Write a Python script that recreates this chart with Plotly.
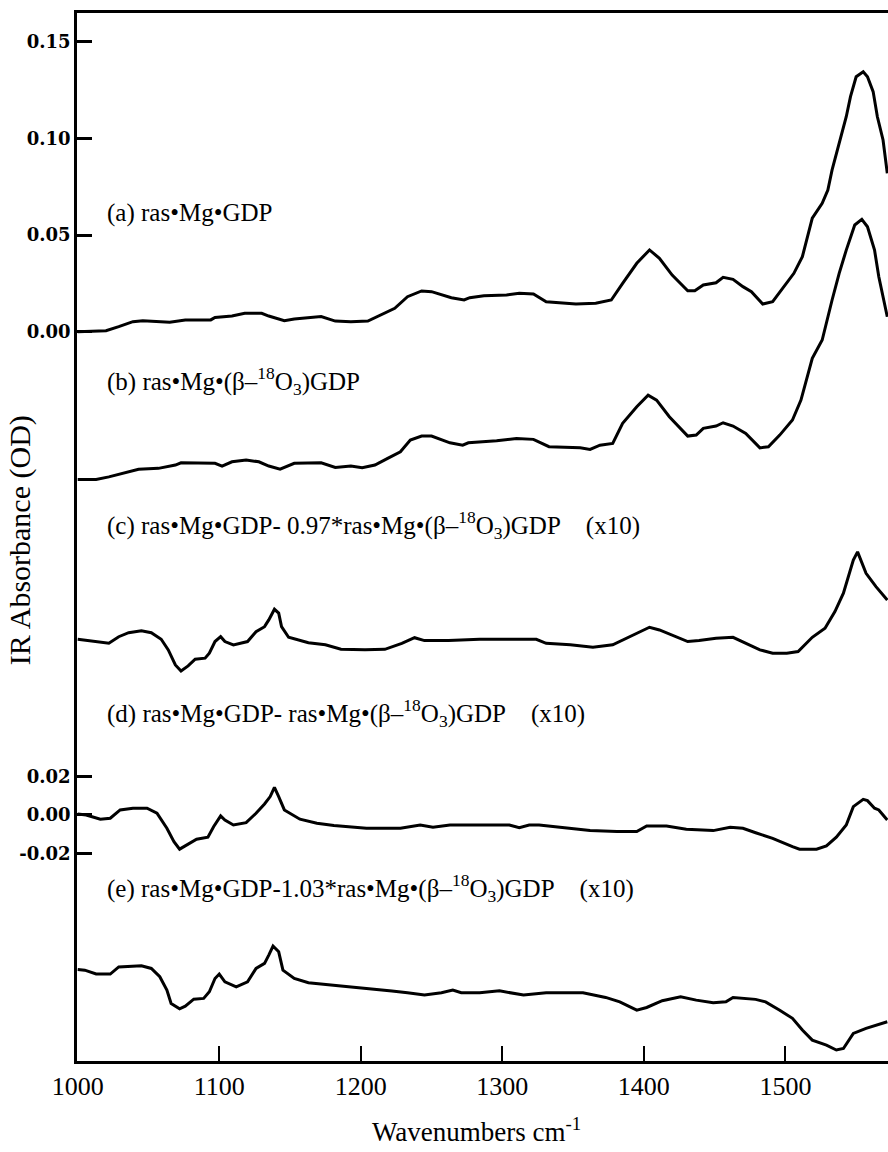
import plotly.graph_objects as go

# ---------------------------------------------------------------- data
# (a) ras·Mg·GDP, absorbance (OD)
WN_A = [1000, 1020, 1029, 1039, 1046, 1065, 1076, 1094, 1097, 1109, 1118, 1130, 1135, 1146,
        1153, 1172, 1182, 1193, 1205, 1212, 1224, 1233, 1243, 1250, 1257, 1264, 1273, 1277,
        1287, 1303, 1312, 1322, 1331, 1352, 1366, 1377, 1385, 1395, 1404, 1411, 1420, 1431,
        1436, 1442, 1451, 1456, 1463, 1470, 1476, 1484, 1491, 1498, 1506, 1512, 1519, 1526,
        1530, 1533, 1538, 1543, 1546, 1550, 1555, 1558, 1562, 1565, 1569, 1572]
ABS_A = [0.0000, 0.0005, 0.0026, 0.0052, 0.0057, 0.0049, 0.0061, 0.0061, 0.0074, 0.0081,
         0.0095, 0.0095, 0.0081, 0.0057, 0.0066, 0.0078, 0.0055, 0.0052, 0.0055, 0.0078,
         0.0121, 0.0181, 0.0211, 0.0207, 0.0190, 0.0176, 0.0164, 0.0176, 0.0186, 0.0190,
         0.0199, 0.0195, 0.0155, 0.0143, 0.0147, 0.0164, 0.0250, 0.0354, 0.0423, 0.0380,
         0.0293, 0.0212, 0.0212, 0.0242, 0.0253, 0.0281, 0.0271, 0.0233, 0.0207, 0.0143,
         0.0155, 0.0225, 0.0302, 0.0388, 0.0587, 0.0664, 0.0733, 0.0837, 0.0975, 0.1112,
         0.1216, 0.1319, 0.1345, 0.1319, 0.1242, 0.1112, 0.0992, 0.0819]

# (b) ras·Mg·(β-18O3)GDP
WN_B = [1000, 1013, 1022, 1033, 1043, 1057, 1069, 1073, 1097, 1102, 1109, 1119, 1128, 1135,
        1143, 1153, 1172, 1182, 1193, 1201, 1210, 1219, 1228, 1235, 1243, 1250, 1257, 1263,
        1272, 1276, 1286, 1296, 1310, 1322, 1333, 1355, 1362, 1369, 1378, 1385, 1395, 1403,
        1409, 1418, 1431, 1437, 1442, 1451, 1456, 1463, 1472, 1482, 1488, 1496, 1505, 1511,
        1519, 1526, 1533, 1538, 1543, 1549, 1554, 1558, 1563, 1566, 1572]
ABS_B = [0.0000, 0.0000, 0.0013, 0.0034, 0.0052, 0.0057, 0.0074, 0.0086, 0.0083, 0.0069,
         0.0091, 0.0100, 0.0091, 0.0069, 0.0053, 0.0083, 0.0086, 0.0062, 0.0069, 0.0060,
         0.0074, 0.0109, 0.0143, 0.0203, 0.0224, 0.0224, 0.0207, 0.0189, 0.0177, 0.0189,
         0.0195, 0.0200, 0.0212, 0.0207, 0.0169, 0.0163, 0.0155, 0.0177, 0.0186, 0.0290,
         0.0376, 0.0436, 0.0410, 0.0324, 0.0224, 0.0229, 0.0264, 0.0276, 0.0293, 0.0276,
         0.0238, 0.0163, 0.0169, 0.0229, 0.0307, 0.0410, 0.0626, 0.0721, 0.0928, 0.1066,
         0.1186, 0.1316, 0.1345, 0.1307, 0.1186, 0.1048, 0.0841]

# (c) a - 0.97*b, x10
WN_C = [1000, 1008, 1022, 1029, 1036, 1045, 1052, 1059, 1064, 1069, 1073, 1078, 1083, 1090,
        1093, 1097, 1101, 1104, 1110, 1120, 1126, 1132, 1135, 1139, 1142, 1144, 1149, 1163,
        1175, 1186, 1203, 1217, 1229, 1238, 1245, 1262, 1284, 1324, 1331, 1348, 1364, 1378,
        1388, 1397, 1404, 1411, 1421, 1431, 1439, 1451, 1463, 1472, 1482, 1491, 1501, 1509,
        1514, 1519, 1528, 1535, 1541, 1544, 1548, 1551, 1557, 1564, 1572]
ABS_C = [0.0000, -0.0007, -0.0021, 0.0013, 0.0034, 0.0044, 0.0034, 0.0000, -0.0055, -0.0133,
         -0.0164, -0.0138, -0.0103, -0.0098, -0.0072, -0.0012, 0.0013, -0.0012, -0.0029,
         -0.0012, 0.0039, 0.0065, 0.0100, 0.0155, 0.0135, 0.0065, 0.0010, -0.0018, -0.0029,
         -0.0052, -0.0055, -0.0052, -0.0021, 0.0008, -0.0007, -0.0007, 0.0000, 0.0000,
         -0.0021, -0.0029, -0.0041, -0.0029, 0.0005, 0.0039, 0.0062, 0.0048, 0.0017, -0.0012,
         -0.0007, 0.0005, 0.0010, -0.0021, -0.0055, -0.0072, -0.0072, -0.0064, -0.0029,
         0.0010, 0.0057, 0.0143, 0.0238, 0.0307, 0.0410, 0.0452, 0.0341, 0.0272, 0.0203]

# (d) a - b, x10
WN_D = [1000, 1006, 1016, 1023, 1030, 1039, 1049, 1056, 1063, 1068, 1072, 1077, 1084, 1092,
        1096, 1101, 1104, 1110, 1119, 1126, 1132, 1136, 1139, 1142, 1146, 1157, 1169, 1181,
        1204, 1228, 1242, 1251, 1263, 1284, 1305, 1312, 1319, 1326, 1345, 1362, 1381, 1395,
        1402, 1416, 1430, 1449, 1461, 1470, 1479, 1491, 1505, 1510, 1522, 1529, 1536, 1543,
        1548, 1555, 1558, 1563, 1566, 1572]
ABS_D = [0.0005, 0.0000, -0.0022, -0.0017, 0.0026, 0.0035, 0.0035, 0.0009, -0.0069, -0.0138,
         -0.0177, -0.0155, -0.0126, -0.0115, -0.0061, -0.0005, -0.0026, -0.0052, -0.0040,
         0.0009, 0.0057, 0.0095, 0.0143, 0.0095, 0.0026, -0.0022, -0.0043, -0.0055, -0.0069,
         -0.0069, -0.0052, -0.0064, -0.0052, -0.0052, -0.0052, -0.0066, -0.0052, -0.0052,
         -0.0066, -0.0081, -0.0086, -0.0086, -0.0057, -0.0057, -0.0074, -0.0081, -0.0064,
         -0.0069, -0.0092, -0.0121, -0.0164, -0.0177, -0.0177, -0.0160, -0.0115, -0.0052,
         0.0043, 0.0081, 0.0074, 0.0035, 0.0026, -0.0026]

# (e) a - 1.03*b, x10
WN_E = [1000, 1005, 1013, 1023, 1029, 1045, 1052, 1058, 1063, 1066, 1072, 1076, 1082, 1089,
        1093, 1097, 1100, 1104, 1112, 1120, 1126, 1132, 1135, 1138, 1142, 1145, 1153, 1163,
        1186, 1205, 1222, 1233, 1245, 1257, 1265, 1271, 1284, 1298, 1315, 1331, 1357, 1373,
        1383, 1395, 1402, 1413, 1426, 1437, 1449, 1458, 1463, 1479, 1486, 1496, 1505, 1512,
        1519, 1529, 1536, 1541, 1548, 1557, 1572]
ABS_E = [0.0000, -0.0004, -0.0024, -0.0024, 0.0013, 0.0019, 0.0005, -0.0038, -0.0107,
         -0.0176, -0.0204, -0.0190, -0.0154, -0.0150, -0.0116, -0.0047, -0.0024, -0.0064,
         -0.0090, -0.0064, 0.0005, 0.0031, 0.0074, 0.0121, 0.0091, -0.0004, -0.0047, -0.0069,
         -0.0086, -0.0098, -0.0112, -0.0121, -0.0133, -0.0121, -0.0107, -0.0121, -0.0121,
         -0.0111, -0.0133, -0.0121, -0.0121, -0.0145, -0.0168, -0.0211, -0.0197, -0.0162,
         -0.0142, -0.0159, -0.0173, -0.0168, -0.0145, -0.0155, -0.0168, -0.0211, -0.0253,
         -0.0314, -0.0366, -0.0392, -0.0417, -0.0409, -0.0331, -0.0305, -0.0271]

# vertical stacking of the traces (OD units on the shared axis)
OFFSETS = {"a": 0.0, "b": -0.0764, "c": -0.1591, "d": -0.250, "e": -0.3299}

X_TICKS = [1000, 1100, 1200, 1300, 1400, 1500]
Y_TICKS_A = [0.00, 0.05, 0.10, 0.15]
Y_TICKS_D = [-0.02, 0.00, 0.02]

GAP = "\u00a0" * 4
ISO = "(\u03b2\u2013<sup>18</sup>O<sub>3</sub>)GDP"
LABELS = {
    "a": "(a) ras\u2022Mg\u2022GDP",
    "b": "(b) ras\u2022Mg\u2022" + ISO,
    "c": "(c) ras\u2022Mg\u2022GDP- 0.97*ras\u2022Mg\u2022" + ISO + GAP + "(x10)",
    "d": "(d) ras\u2022Mg\u2022GDP- ras\u2022Mg\u2022" + ISO + GAP + "(x10)",
    "e": "(e) ras\u2022Mg\u2022GDP-1.03*ras\u2022Mg\u2022" + ISO + GAP + "(x10)",
}
# label centre lines (OD units on the shared axis)
LABEL_Y = {"a": 0.0614, "b": -0.0255, "c": -0.1000, "d": -0.197, "e": -0.2877}

SERIF = "Liberation Serif, Times New Roman, serif"

# ---------------------------------------------------------------- figure
fig = go.Figure()
series = [("a", WN_A, ABS_A), ("b", WN_B, ABS_B), ("c", WN_C, ABS_C),
          ("d", WN_D, ABS_D), ("e", WN_E, ABS_E)]
for key, wn, ab in series:
    off = OFFSETS[key]
    fig.add_trace(go.Scatter(
        x=wn, y=[v + off for v in ab], mode="lines",
        line=dict(color="black", width=3),
        showlegend=False, hoverinfo="skip"))

for key, text in LABELS.items():
    fig.add_annotation(x=1019, y=LABEL_Y[key], xref="x", yref="y", text=text,
                       showarrow=False, xanchor="left", yanchor="middle",
                       font=dict(family=SERIF, size=25, color="black"))

tickvals = [v + OFFSETS["a"] for v in Y_TICKS_A] + [v + OFFSETS["d"] for v in Y_TICKS_D]
ticktext = ["%.2f" % v for v in Y_TICKS_A] + ["%.2f" % v for v in Y_TICKS_D]

fig.update_xaxes(range=[999.5, 1572.5], tickvals=X_TICKS, ticktext=[str(t) for t in X_TICKS],
                 ticks="inside", ticklen=15, tickwidth=2, tickcolor="black",
                 showline=True, linecolor="black", linewidth=2.5, mirror=True,
                 showgrid=False, zeroline=False,
                 tickfont=dict(family=SERIF, size=26, color="black"))
fig.update_yaxes(range=[-0.37729, 0.16487], tickvals=tickvals, ticktext=ticktext,
                 ticks="inside", ticklen=15, tickwidth=2.5, tickcolor="black",
                 showline=True, linecolor="black", linewidth=2.5, mirror=False,
                 showgrid=False, zeroline=False,
                 tickfont=dict(family="DejaVu Serif, serif", size=18, color="black",
                               weight="bold"))

fig.add_annotation(xref="paper", yref="paper", x=-0.0703, y=0.497, text="IR Absorbance (OD)",
                   textangle=-90, showarrow=False, xanchor="center", yanchor="middle",
                   font=dict(family=SERIF, size=30, color="black"))
fig.add_annotation(xref="paper", yref="paper", x=0.492, y=-0.066,
                   text="Wavenumbers cm<sup>-1</sup>", showarrow=False,
                   xanchor="center", yanchor="middle",
                   font=dict(family=SERIF, size=27, color="black"))

fig.update_layout(width=888, height=1152, margin=dict(l=77, r=0, t=13, b=91),
                  paper_bgcolor="white", plot_bgcolor="white")

fig.write_html("out.html")
